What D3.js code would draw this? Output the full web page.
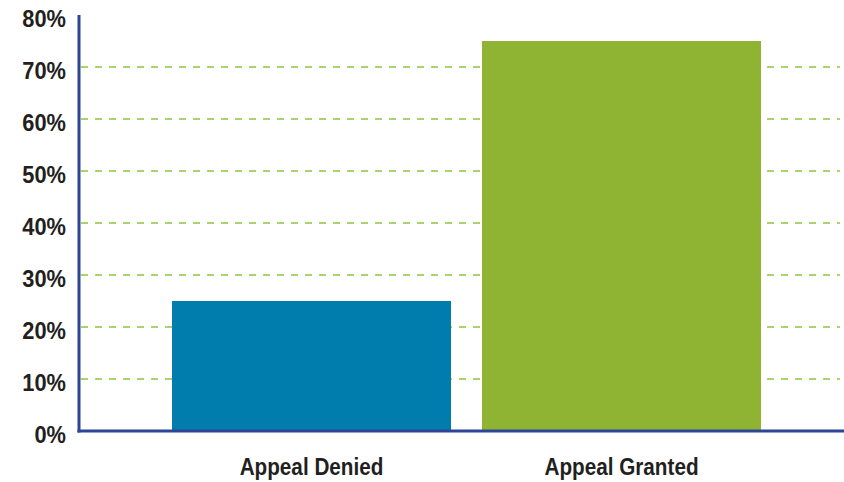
<!DOCTYPE html>
<html>
<head>
<meta charset="utf-8">
<script src="https://cdn.jsdelivr.net/npm/d3@7"></script>
<style>
  body { margin: 0; background: #fff; }
  text { font-family: "Liberation Sans", Arial, sans-serif; font-weight: bold; fill: #231f20; }
</style>
</head>
<body>
<svg id="chart" width="844" height="482"></svg>
<script>
const categories = ['Appeal Denied', 'Appeal Granted'];
const values = [25, 75];
const barColors = ['#007dac', '#8fb332'];
const yTicks = [0, 10, 20, 30, 40, 50, 60, 70, 80];

const svg = d3.select('#chart');
const margin = { top: 15, right: 0, bottom: 51, left: 79 };
const width = 844;
const height = 482;
const innerBottom = height - margin.bottom;
const squeezeY = 0.95; // condensed look for the labels
const squeezeX = 0.9;

const x = d3.scaleBand()
  .domain(categories)
  .range([margin.left, 854])
  .paddingInner(0.1)
  .paddingOuter(0.3);

const y = d3.scaleLinear()
  .domain([0, 80])
  .range([innerBottom, margin.top]);

// dashed gridlines
svg.append('g')
  .attr('class', 'grid')
  .selectAll('line')
  .data(yTicks.filter(d => d > 0 && d < 80))
  .enter()
  .append('line')
  .attr('x1', margin.left + 2)
  .attr('x2', 840)
  .attr('y1', d => Math.round(y(d)))
  .attr('y2', d => Math.round(y(d)))
  .style('stroke', '#8cc63f')
  .style('stroke-width', 1.6)
  .style('stroke-dasharray', '7,7');

// bars
svg.append('g')
  .selectAll('rect')
  .data(values)
  .enter()
  .append('rect')
  .attr('x', (d, i) => x(categories[i]))
  .attr('width', x.bandwidth())
  .attr('y', d => y(d))
  .attr('height', d => innerBottom - y(d))
  .attr('fill', (d, i) => barColors[i]);

// y axis labels
const yAxis = svg.append('g')
  .attr('transform', `translate(${margin.left},0)`)
  .call(d3.axisLeft(y).tickValues(yTicks).tickFormat(d => d + '%').tickSize(0).tickPadding(13));
yAxis.select('.domain').remove();
yAxis.selectAll('text')
  .attr('x', -13 / squeezeY)
  .attr('dy', '0.48em')
  .attr('transform', `scale(${squeezeY},1)`)
  .style('font-size', '23px');

// x axis labels
const xAxis = svg.append('g')
  .attr('transform', `translate(0,${innerBottom})`)
  .call(d3.axisBottom(x).tickSize(0).tickPadding(28));
xAxis.select('.domain').remove();
xAxis.selectAll('text')
  .attr('transform', `scale(${squeezeX},1)`)
  .style('font-size', '23px');

// axis lines
svg.append('line')
  .attr('x1', margin.left).attr('x2', margin.left)
  .attr('y1', margin.top).attr('y2', innerBottom + 1.5)
  .attr('stroke', '#2e4596').attr('stroke-width', 3);
svg.append('line')
  .attr('x1', margin.left - 1.5).attr('x2', width)
  .attr('y1', innerBottom).attr('y2', innerBottom)
  .attr('stroke', '#2e4596').attr('stroke-width', 3);
</script>
</body>
</html>
